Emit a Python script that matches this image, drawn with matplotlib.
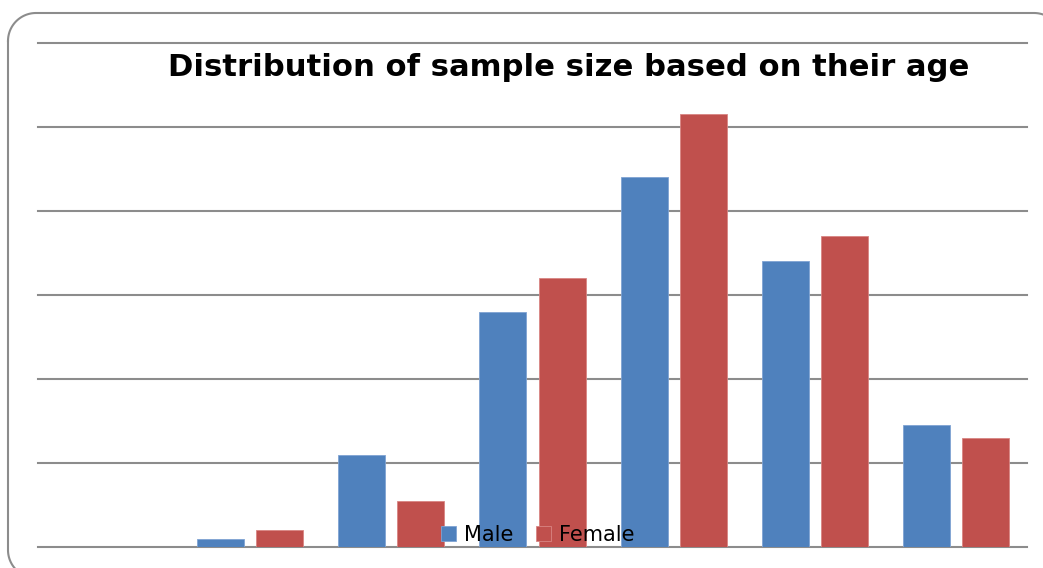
import matplotlib.pyplot as plt
import numpy as np

# Age groups (no labels shown on the chart)
age_groups = ["G1", "G2", "G3", "G4", "G5", "G6", "G7"]
male = [0, 1, 11, 28, 44, 34, 14.5]
female = [0, 2, 5.5, 32, 51.5, 37, 13]

W, H = 1043, 568
fig = plt.figure(figsize=(W / 100, H / 100), dpi=100)


def rounded_frame(x0, y0, x1, y1, r, n=30):
    """Polyline of a rounded rectangle in pixel space (y down)."""
    pts = []
    corners = [
        (x0 + r, y0 + r, np.pi, 1.5 * np.pi),
        (x1 - r, y0 + r, 1.5 * np.pi, 2 * np.pi),
        (x1 - r, y1 - r, 0, 0.5 * np.pi),
        (x0 + r, y1 - r, 0.5 * np.pi, np.pi),
    ]
    for cx, cy, a0, a1 in corners:
        t = np.linspace(a0, a1, n)
        pts.append(np.column_stack([cx + r * np.cos(t), cy + r * np.sin(t)]))
    pts.append(pts[0][:1])
    return np.vstack(pts)


# pixel-space overlay for the rounded outer frame (runs off right/bottom)
bg = fig.add_axes([0, 0, 1, 1], zorder=-1)
bg.set_xlim(0, W)
bg.set_ylim(H, 0)
bg.axis("off")
fp = rounded_frame(8, 13, 1062, 578, 28)
bg.plot(fp[:, 0], fp[:, 1], color="#8c8c8c", linewidth=1.5)

ax = fig.add_axes([38 / W, (H - 547) / H, (1027 - 38) / W, (547 - 43) / H])
ax.patch.set_visible(False)

x = np.arange(len(age_groups))
bw = 0.333
off = 0.209
ax.bar(x - off, male, bw, color="#4F81BD", edgecolor="#7fa3d3", linewidth=0.6,
       label="Male", zorder=3)
ax.bar(x + off, female, bw, color="#C0504D", edgecolor="#d88583", linewidth=0.6,
       label="Female", zorder=3)

ax.set_xlim(-0.5, len(age_groups) - 0.5)
ax.set_ylim(0, 60)
ax.set_yticks(np.arange(0, 61, 10))
ax.yaxis.grid(True, color="#8c8c8c", linewidth=1.5, zorder=1)
for gl in ax.get_ygridlines():
    gl.set_clip_on(False)
ax.set_axisbelow(True)
ax.tick_params(left=False, bottom=False, labelleft=False, labelbottom=False)
for s in ax.spines.values():
    s.set_visible(False)

fig.text(568.5 / W, 1 - 68 / H, "Distribution of sample size based on their age",
         ha="center", va="center", fontsize=22.1, fontweight="bold")

leg = ax.legend(loc="center", bbox_to_anchor=(0.505, 0.024), ncol=2, frameon=False,
                fontsize=15, handlelength=0.75, handleheight=0.75,
                handletextpad=0.35, columnspacing=1.1, borderpad=0)
leg.set_zorder(5)

fig.savefig("out.png", dpi=100)
